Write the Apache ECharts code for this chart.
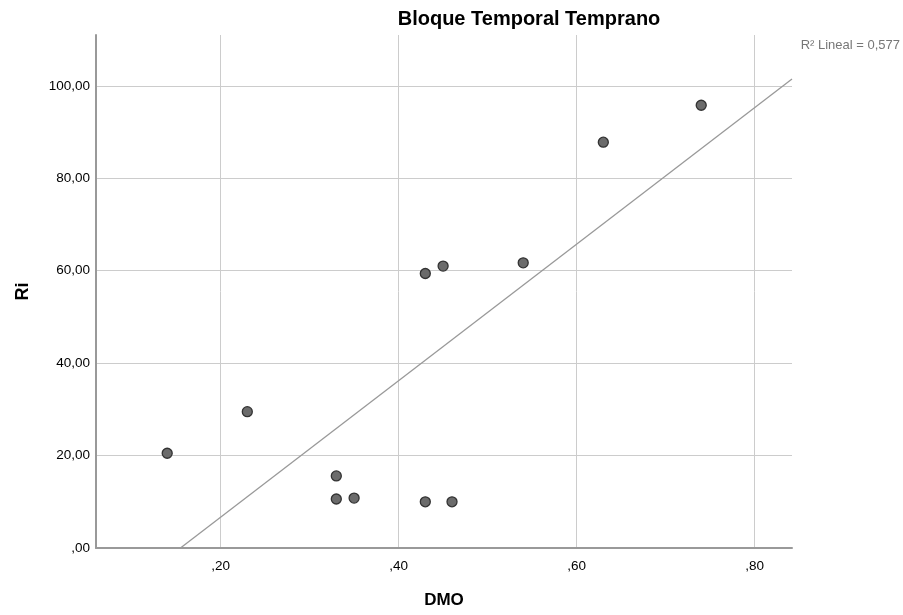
<!DOCTYPE html>
<html><head><meta charset="utf-8">
<script src="https://cdn.jsdelivr.net/npm/echarts@6/dist/echarts.min.js"></script>
<style>html,body{margin:0;padding:0;background:#fff}#c{width:903px;height:615px}</style>
</head><body><div id="c"></div>
<script>
const dmo = [0.14, 0.23, 0.33, 0.33, 0.35, 0.43, 0.45, 0.43, 0.46, 0.54, 0.63, 0.74];
const ri  = [20.5, 29.5, 15.6, 10.6, 10.8, 59.4, 61.0, 10.0, 10.0, 61.7, 87.8, 95.8];
const xTicks = [0.2, 0.4, 0.6, 0.8];
const yTicks = [0, 20, 40, 60, 80, 100];
const xMin = 0.06, xMax = 0.842, yMin = 0, yMax = 111;
const r2Label = 'R² Lineal = 0,577';

// least squares fit
const n = dmo.length;
const mx = dmo.reduce((a,b)=>a+b,0)/n, my = ri.reduce((a,b)=>a+b,0)/n;
let sxy=0, sxx=0;
for (let i=0;i<n;i++){ sxy += (dmo[i]-mx)*(ri[i]-my); sxx += (dmo[i]-mx)**2; }
const slope = sxy/sxx, icpt = my - slope*mx;
const xStart = Math.max(xMin, (yMin - icpt)/slope);
const fitLine = [[xStart, icpt + slope*xStart], [xMax, icpt + slope*xMax]];

const fmt = (v, d) => { const s = v.toFixed(d).replace('.', ','); return s.startsWith('0,') ? s.slice(1) : s; };

const chart = echarts.init(document.getElementById('c'));
chart.setOption({
  animation: false,
  title: { text: 'Bloque Temporal Temprano', left: 524, top: 4, textAlign: 'center',
    textStyle: { fontFamily: 'Liberation Sans', fontSize: 20, fontWeight: 'bold', color: '#000' } },
  graphic: [{ type: 'text', right: 3, top: 39, style: { text: r2Label, font: '13px "Liberation Sans"', fill: '#777' } }],
  grid: { left: 96, right: 111, top: 35, bottom: 67 },
  xAxis: {
    type: 'value', min: xMin, max: xMax,
    name: 'DMO', nameLocation: 'middle', nameGap: 44,
    nameTextStyle: { fontFamily: 'Liberation Sans', fontSize: 17, fontWeight: 'bold', color: '#000' },
    axisLine: { show: true, lineStyle: { color: '#999', width: 2 } },
    axisTick: { show: false, customValues: xTicks },
    axisLabel: { customValues: xTicks, formatter: v => fmt(v, 2), fontFamily: 'Liberation Sans', fontSize: 13.5, color: '#000', margin: 11 },
    splitLine: { show: true, lineStyle: { color: '#ccc', width: 1 } }
  },
  yAxis: {
    type: 'value', min: yMin, max: yMax,
    name: 'Ri', nameLocation: 'middle', nameGap: 64,
    nameTextStyle: { fontFamily: 'Liberation Sans', fontSize: 18, fontWeight: 'bold', color: '#000' },
    axisLine: { show: true, lineStyle: { color: '#999', width: 2 } },
    axisTick: { show: false, customValues: yTicks },
    axisLabel: { customValues: yTicks, formatter: v => fmt(v, 2), fontFamily: 'Liberation Sans', fontSize: 13.5, color: '#000', margin: 6, padding: [4, 0, 0, 0] },
    splitLine: { show: true, lineStyle: { color: '#ccc', width: 1 } }
  },
  series: [
    { type: 'line', data: fitLine, symbol: 'none', silent: true,
      lineStyle: { color: '#999', width: 1.3 }, z: 2 },
    { type: 'scatter', data: dmo.map((x,i)=>[x, ri[i]]), symbolSize: 10,
      itemStyle: { color: '#6b6b6b', borderColor: '#333', borderWidth: 1.3, opacity: 1 }, z: 3 }
  ]
});
</script></body></html>
